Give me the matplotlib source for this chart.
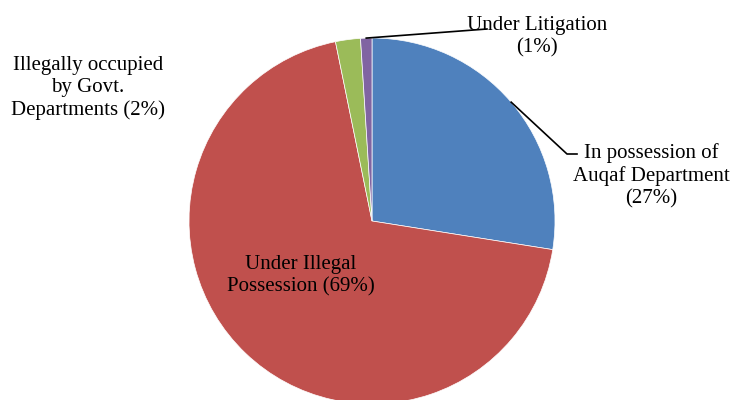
import matplotlib.pyplot as plt
import numpy as np

W, H = 734, 400

labels = ["In possession of\nAuqaf Department\n(27%)",
          "Under Illegal\nPossession (69%)",
          "Illegally occupied\nby Govt.\nDepartments (2%)",
          "Under Litigation\n(1%)"]
values = [27.5, 69.3, 2.2, 1.0]
colors = ["#4F81BD", "#C0504D", "#9BBB59", "#8064A2"]

# label centres in pixels (x, y from top)
label_px = [(651, 176), (301, 276), (88, 88), (537, 37)]
# leader line elbows (pixels), None = no leader
leader_px = [[(567, 154), (577, 154)], None, None, [(487, 29)]]

cx, cy, r = 372, 221, 183

plt.rcParams['font.family'] = ['Liberation Serif', 'DejaVu Serif']
fig = plt.figure(figsize=(W / 100, H / 100), dpi=100)
ax = fig.add_axes([(cx - r) / W, (H - cy - r) / H, 2 * r / W, 2 * r / H])
wedges, _ = ax.pie(values, colors=colors, startangle=90, counterclock=False,
                   radius=1, wedgeprops=dict(linewidth=0.5, edgecolor="white"))
ax.set_xlim(-1, 1)
ax.set_ylim(-1, 1)
ax.axis("off")


def to_data(px, py):
    return (px - cx) / r, (cy - py) / r


for i, w in enumerate(wedges):
    tx, ty = to_data(*label_px[i])
    ax.text(tx, ty, labels[i], ha="center", va="center", fontsize=15,
            linespacing=1.22, clip_on=False, zorder=5)
    if leader_px[i] is not None:
        mid = np.deg2rad((w.theta1 + w.theta2) / 2)
        xs = [np.cos(mid)] + [to_data(*p)[0] for p in leader_px[i]]
        ys = [np.sin(mid)] + [to_data(*p)[1] for p in leader_px[i]]
        ax.plot(xs, ys, color="black", lw=1.2, clip_on=False, zorder=4)

fig.savefig("out.png", dpi=100)
